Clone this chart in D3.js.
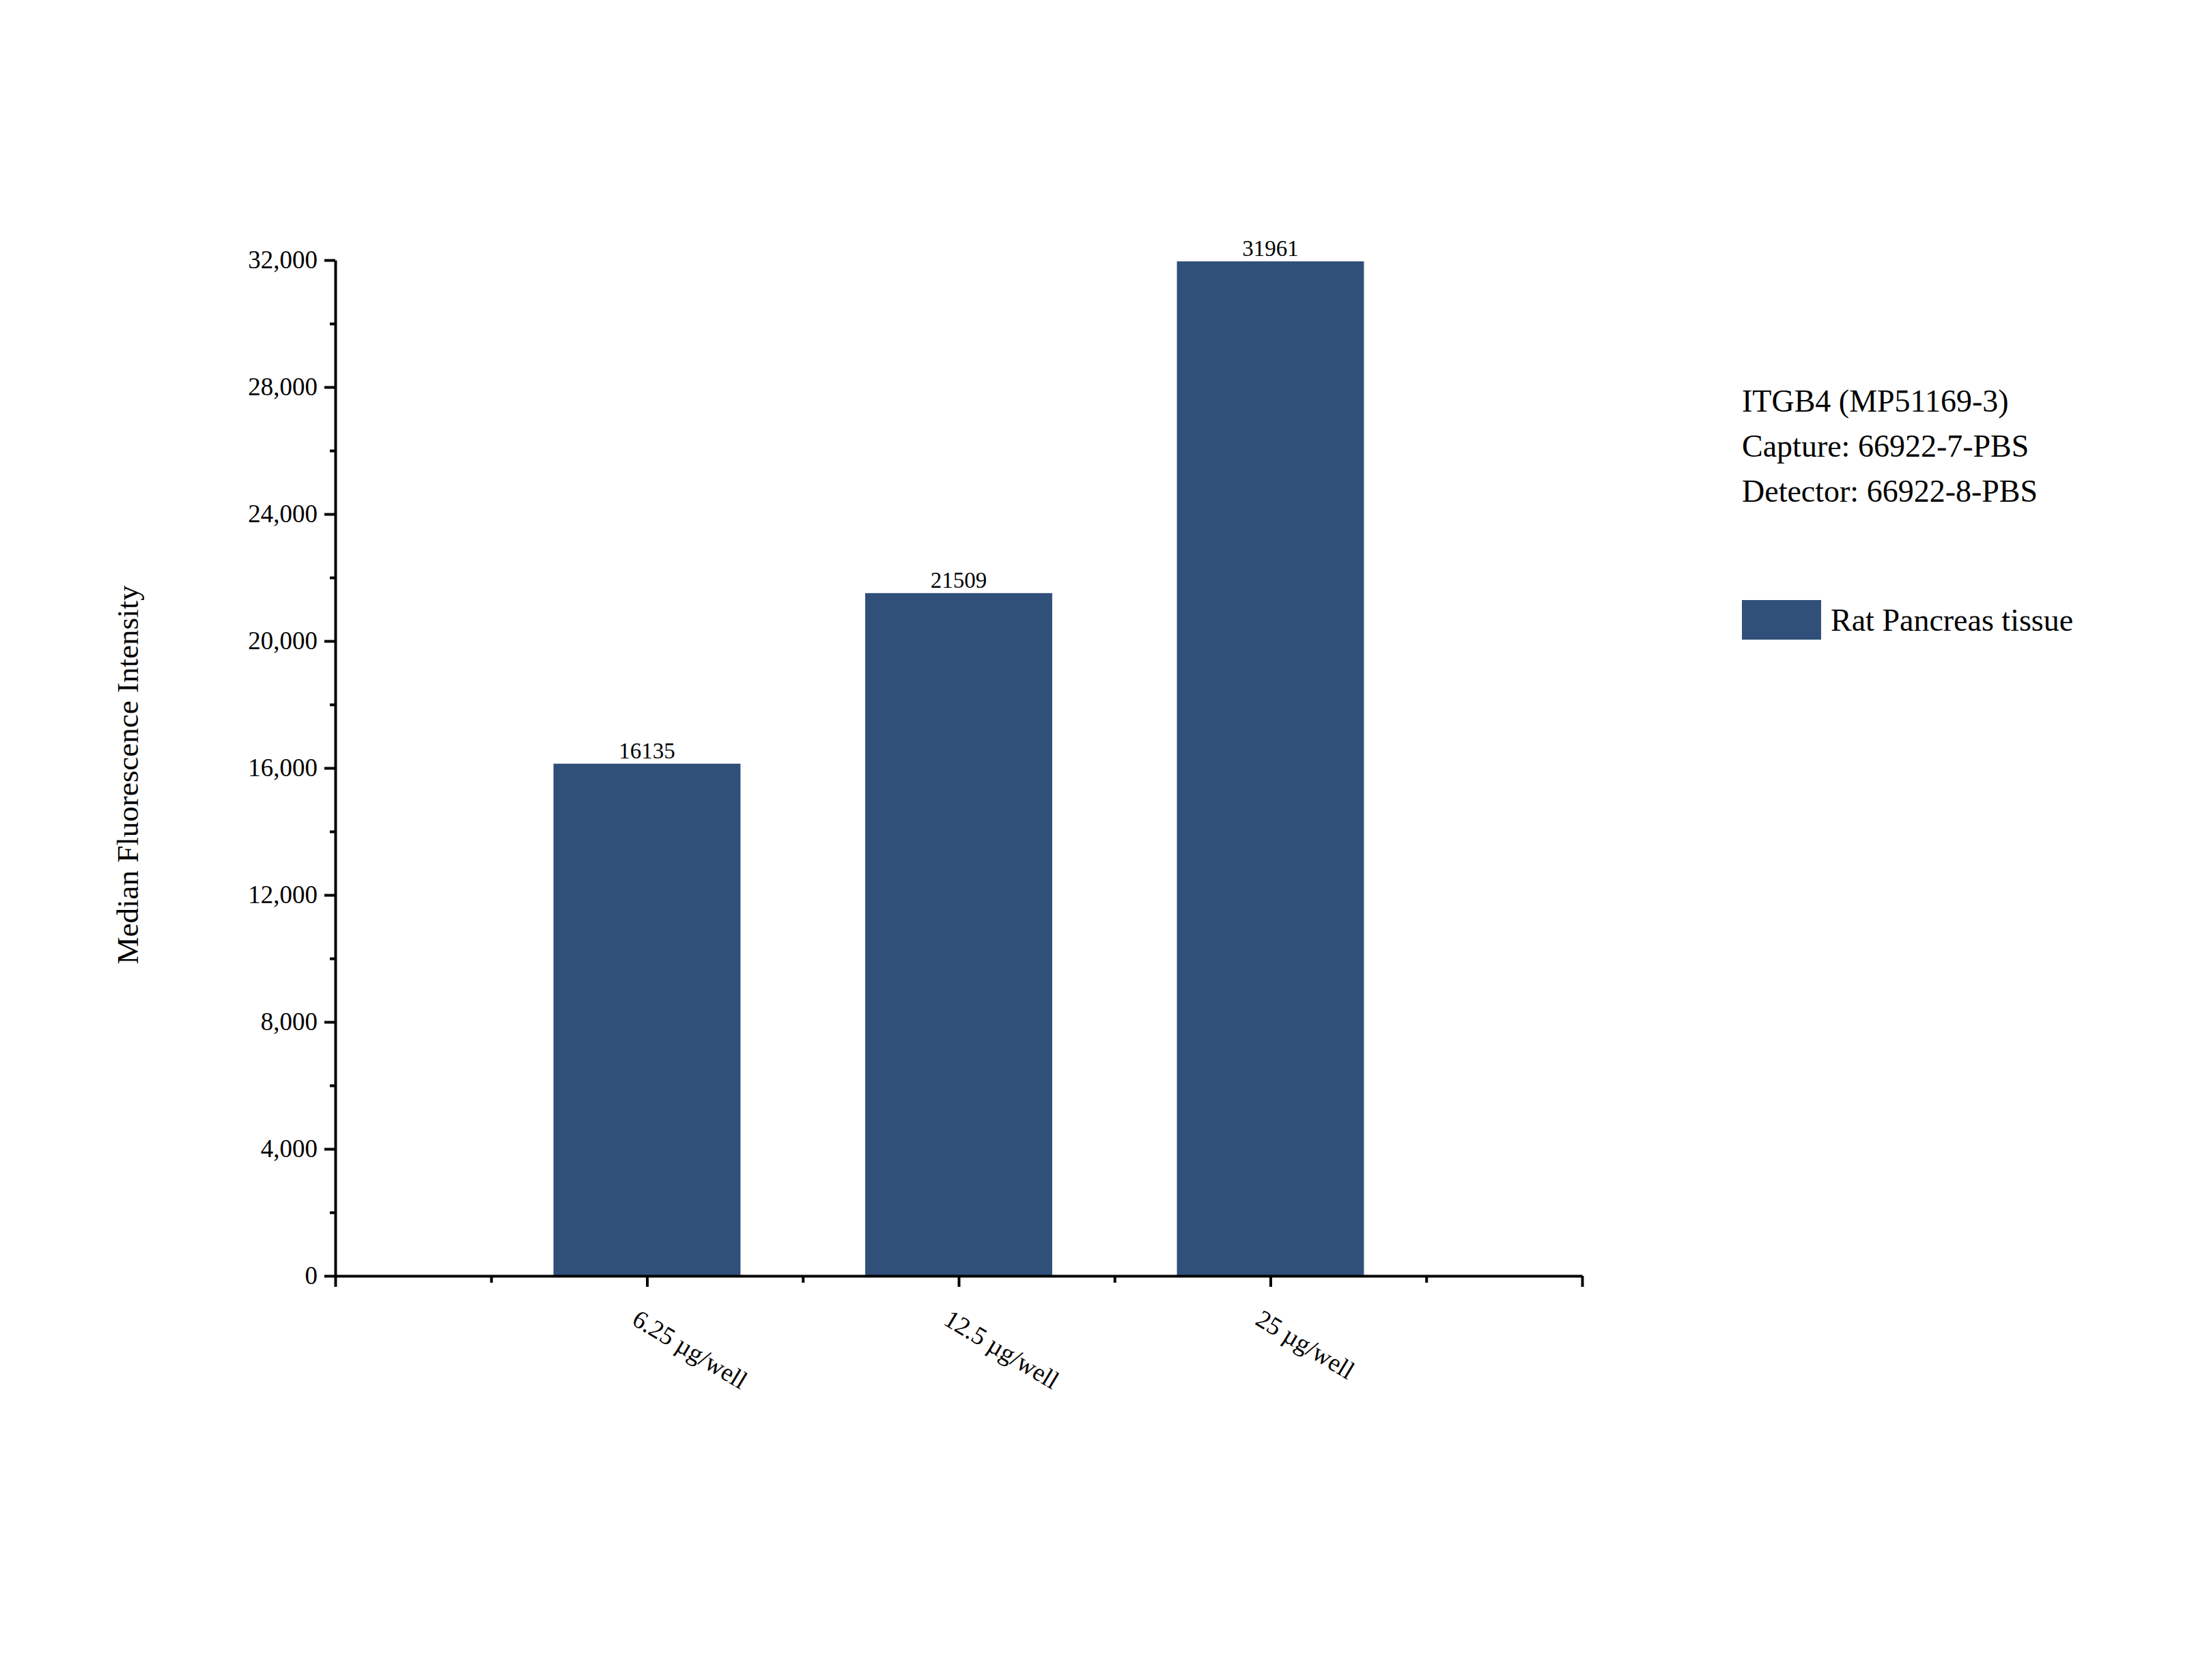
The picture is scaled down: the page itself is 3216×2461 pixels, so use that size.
<!DOCTYPE html>
<html><head><meta charset="utf-8">
<script src="https://cdn.jsdelivr.net/npm/d3@7"></script>
<style>body{margin:0;background:#fff}text{font-family:"Liberation Serif","Times New Roman",serif;fill:#000}</style>
</head><body>
<svg id="chart" width="3216" height="2461"></svg>
<script>
const categories = ['6.25 µg/well', '12.5 µg/well', '25 µg/well'];
const values = [16135, 21509, 31961];
const yTicks = [0, 4000, 8000, 12000, 16000, 20000, 24000, 28000, 32000];
const infoLines = ['ITGB4 (MP51169-3)', 'Capture: 66922-7-PBS', 'Detector: 66922-8-PBS'];
const seriesName = 'Rat Pancreas tissue';
const barColor = '#30507a';

const svg = d3.select('#chart');
const x = d3.scaleLinear().domain([0, 4]).range([491, 2317]);
const y = d3.scaleLinear().domain([0, 32000]).range([1869, 381]);
const bw = x(0.6) - x(0);

// bars
svg.selectAll('.bar').data(values).join('rect')
    .attr('class', 'bar')
    .attr('x', (d, i) => x(i + 1) - bw / 2)
    .attr('y', d => y(d))
    .attr('width', bw)
    .attr('height', d => y(0) - y(d))
    .attr('fill', barColor);

svg.selectAll('.val').data(values).join('text')
    .attr('class', 'val')
    .attr('x', (d, i) => x(i + 1))
    .attr('y', d => y(d) - 8)
    .attr('text-anchor', 'middle')
    .style('font-size', '33px')
    .text(d => d);

// y axis
const yAxis = svg.append('g').attr('transform', `translate(${x(0)},0)`)
    .call(d3.axisLeft(y).tickValues(yTicks).tickSize(16).tickPadding(10).tickSizeOuter(0));
yAxis.selectAll('text').style('font-size', '37px').style('font-family', '"Liberation Serif",serif');
svg.append('g').attr('transform', `translate(${x(0)},0)`)
    .call(d3.axisLeft(y).tickValues(d3.range(2000, 32000, 4000)).tickSize(8).tickFormat('').tickSizeOuter(0))
    .select('.domain').remove();

// x axis
const xAxis = svg.append('g').attr('transform', `translate(0,${y(0)})`)
    .call(d3.axisBottom(x).tickValues(d3.range(0, 4.01, 0.5)).tickSize(16).tickFormat('').tickSizeOuter(0));
svg.selectAll('.domain, .tick line').attr('stroke', '#000').attr('stroke-width', 4);
xAxis.selectAll('.tick line').filter(d => d % 1 !== 0).attr('y2', 10);

svg.selectAll('.xlab').data(categories).join('text')
    .attr('class', 'xlab')
    .attr('transform', (d, i) => `translate(${x(i + 1) - 24},${y(0) + 70}) rotate(31)`)
    .style('font-size', '37px')
    .text(d => d);

svg.append('text')
    .attr('transform', `translate(202,${(y(0) + y(32000)) / 2 + 10}) rotate(-90)`)
    .attr('text-anchor', 'middle')
    .style('font-size', '45px')
    .text('Median Fluorescence Intensity');

// legend
svg.selectAll('.info').data(infoLines).join('text')
    .attr('class', 'info')
    .attr('x', 2551)
    .attr('y', (d, i) => 603 + i * 66)
    .style('font-size', '46px')
    .text(d => d);
svg.append('rect').attr('x', 2551).attr('y', 879).attr('width', 116).attr('height', 58).attr('fill', barColor);
svg.append('text').attr('x', 2681).attr('y', 924).style('font-size', '46px').text(seriesName);
</script>
</body></html>
